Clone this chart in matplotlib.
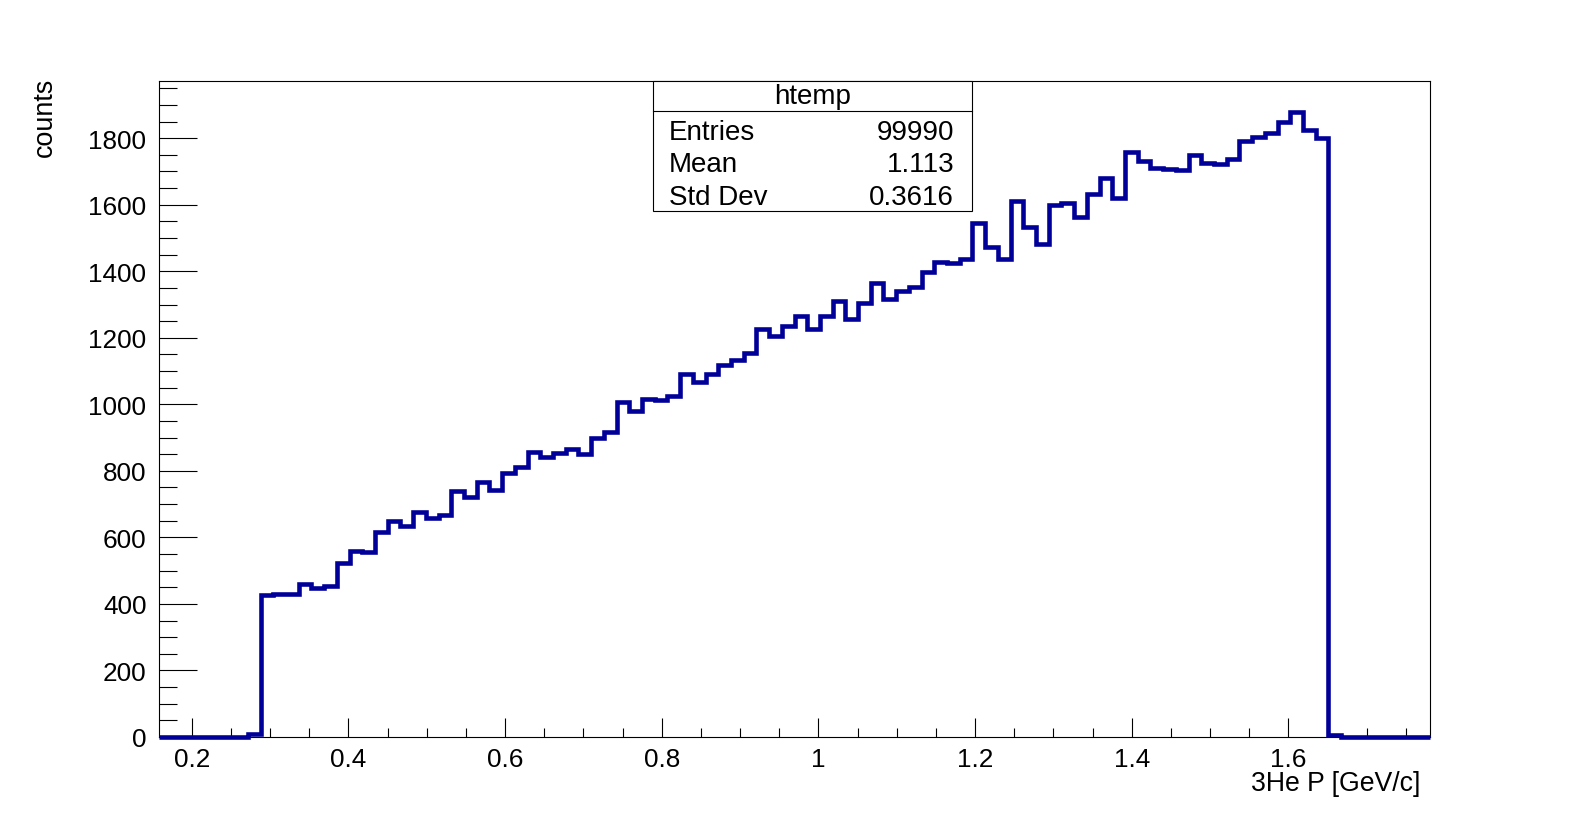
import numpy as np
import matplotlib
matplotlib.use("Agg")
import matplotlib.pyplot as plt
from matplotlib.patches import Rectangle
from matplotlib.ticker import MultipleLocator, FuncFormatter

plt.rcParams['font.family'] = ['Liberation Sans', 'DejaVu Sans']

# histogram htemp: 100 bins over the x range
x_min, x_max = 0.158, 1.781
counts = [0, 0, 0, 0, 0, 0, 0, 8,
          426, 431, 429, 461, 448, 453, 523, 558, 555, 615,
          648, 634, 677, 658, 667, 739, 721, 768, 742, 793,
          813, 858, 843, 855, 867, 850, 898, 916, 1006, 980,
          1015, 1012, 1024, 1090, 1068, 1092, 1117, 1132, 1154, 1225,
          1206, 1235, 1264, 1226, 1266, 1312, 1256, 1304, 1366, 1316,
          1342, 1354, 1397, 1427, 1425, 1438, 1544, 1472, 1436, 1610,
          1532, 1481, 1598, 1604, 1562, 1631, 1679, 1619, 1758, 1731,
          1710, 1706, 1703, 1750, 1725, 1721, 1737, 1791, 1804, 1817,
          1848, 1878, 1826, 1800,
          7, 0, 0, 0, 0, 0, 0, 0]
edges = np.linspace(x_min, x_max, len(counts) + 1)

stats_title = "htemp"
stats_names = ["Entries", "Mean", "Std Dev"]
stats_values = ["99990", "1.113", "0.3616"]

fig = plt.figure(figsize=(15.89, 8.20), dpi=100)
ax = fig.add_axes([0.1, 0.1, 0.8, 0.8])

ax.stairs(counts, edges, baseline=None, color='#000099', linewidth=3.3,
          clip_on=False, zorder=5)

ax.set_xlim(x_min, x_max)
ax.set_ylim(0, max(counts) * 1.05)

ax.xaxis.set_major_locator(MultipleLocator(0.2))
ax.xaxis.set_minor_locator(MultipleLocator(0.05))
ax.yaxis.set_major_locator(MultipleLocator(200))
ax.yaxis.set_minor_locator(MultipleLocator(50))
ax.xaxis.set_major_formatter(FuncFormatter(lambda v, p: "%g" % round(v, 3)))

ax.tick_params(axis='both', which='both', direction='in', top=False, right=False,
               width=0.8, labelsize=18.8)
ax.tick_params(axis='y', which='major', length=27, pad=9)
ax.tick_params(axis='y', which='minor', length=13)
ax.tick_params(axis='x', which='major', length=13.5, pad=7)
ax.tick_params(axis='x', which='minor', length=6.5)
for s in ax.spines.values():
    s.set_linewidth(0.8)

fig.text(1420 / 1589, 1 - 791 / 820, "3He P [GeV/c]", ha='right', va='baseline',
         fontsize=19.2)
fig.text(45 / 1589, 0.905, "counts", rotation=90, ha='center', va='top',
         fontsize=19.4)

# stats box
bx0, bx1 = 0.389, 0.640
by0, by1 = 0.802, 1.0
ax.add_patch(Rectangle((bx0, by0), bx1 - bx0, by1 - by0, transform=ax.transAxes,
                       facecolor='white', edgecolor='black', linewidth=0.8,
                       clip_on=False, zorder=10))
ax.plot([bx0, bx1], [0.9547, 0.9547], transform=ax.transAxes, color='black',
        linewidth=0.8, clip_on=False, zorder=11)
ax.text((bx0 + bx1) / 2, 0.977, stats_title, transform=ax.transAxes, ha='center',
        va='center', fontsize=20, zorder=12)
rows_y = [0.922, 0.873, 0.823]
for name, val, yy in zip(stats_names, stats_values, rows_y):
    ax.text(0.401, yy, name, transform=ax.transAxes, ha='left', va='center',
            fontsize=20, zorder=12)
    ax.text(0.6255, yy, val, transform=ax.transAxes, ha='right', va='center',
            fontsize=20, zorder=12)

fig.savefig("out.png", dpi=100)
